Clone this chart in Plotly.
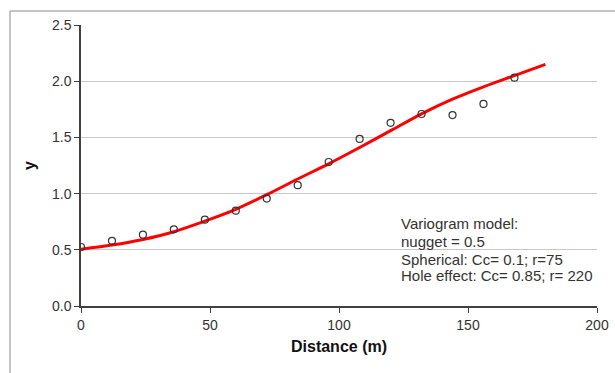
import plotly.graph_objects as go

# Experimental variogram points
lag_x = [0, 12, 24, 36, 48, 60, 72, 84, 96, 108, 120, 132, 144, 156, 168]
gamma_obs = [0.525, 0.58, 0.635, 0.682, 0.768, 0.848, 0.956, 1.075, 1.281, 1.486, 1.63, 1.708, 1.699, 1.798, 2.031]

# Model curve
model_x = [0, 12, 24, 36, 48, 60, 72, 84, 96, 108, 120, 132, 144, 156, 168, 180]
model_y = [0.505, 0.542, 0.592, 0.661, 0.755, 0.86, 0.99, 1.13, 1.265, 1.41, 1.56, 1.71, 1.84, 1.95, 2.05, 2.15]

x_ticks = [0, 50, 100, 150, 200]
y_ticks = [0.0, 0.5, 1.0, 1.5, 2.0, 2.5]
y_tick_labels = ["0.0", "0.5", "1.0", "1.5", "2.0", "2.5"]

annotation_lines = ["Variogram model:", "nugget = 0.5", "Spherical: Cc= 0.1; r=75", "Hole effect: Cc= 0.85; r= 220"]
annotation_y = [0.736, 0.572, 0.418, 0.269]

FONT = "Arial, Liberation Sans, sans-serif"

fig = go.Figure()
fig.add_trace(go.Scatter(
    x=model_x, y=model_y, mode="lines", line=dict(color="#ff0000", width=3, shape="spline", smoothing=0.8),
    showlegend=False, hoverinfo="skip"))
fig.add_trace(go.Scatter(
    x=lag_x, y=gamma_obs, mode="markers",
    marker=dict(symbol="circle-open", size=7, color="#333333", line=dict(width=1.2, color="#333333")),
    showlegend=False))

annotations = [dict(
    x=123.3, y=yy, xref="x", yref="y", xanchor="left", yanchor="middle", align="left",
    text=t, showarrow=False, font=dict(size=15, color="#333333"))
    for t, yy in zip(annotation_lines, annotation_y)]

fig.update_layout(
    width=615, height=373,
    margin=dict(l=81, r=18, t=25, b=67, autoexpand=False),
    paper_bgcolor="white", plot_bgcolor="white",
    font=dict(family=FONT, size=14, color="#333333"),
    xaxis=dict(range=[0, 200], tickvals=x_ticks, ticks="outside", ticklen=5, tickcolor="#404040",
               showline=True, linecolor="#404040", linewidth=1.5, showgrid=False, zeroline=False,
               automargin=False,
               tickfont=dict(size=14, color="#333333"),
               title=dict(text="<b>Distance (m)</b>", font=dict(size=16, color="#111111"), standoff=9)),
    yaxis=dict(range=[0, 2.5], tickvals=y_ticks, ticktext=y_tick_labels, ticks="outside", ticklen=5,
               tickcolor="#404040", showline=True, linecolor="#404040", linewidth=1.5,
               showgrid=True, gridcolor="#c8c8c8", gridwidth=1, zeroline=False,
               automargin=False,
               tickfont=dict(size=14, color="#333333"),
               title=dict(text="<b>y</b>", font=dict(size=16, color="#111111"), standoff=12)),
    annotations=annotations,
    shapes=[
        dict(type="line", xref="paper", yref="paper", x0=-0.1376, x1=1.1, y0=1.0498, y1=1.0498,
             line=dict(color="#b0b0b0", width=1.5)),
        dict(type="line", xref="paper", yref="paper", x0=-0.1376, x1=-0.1376, y0=1.0498, y1=-0.3,
             line=dict(color="#b0b0b0", width=1.5)),
    ],
)

fig.write_html("out.html")
